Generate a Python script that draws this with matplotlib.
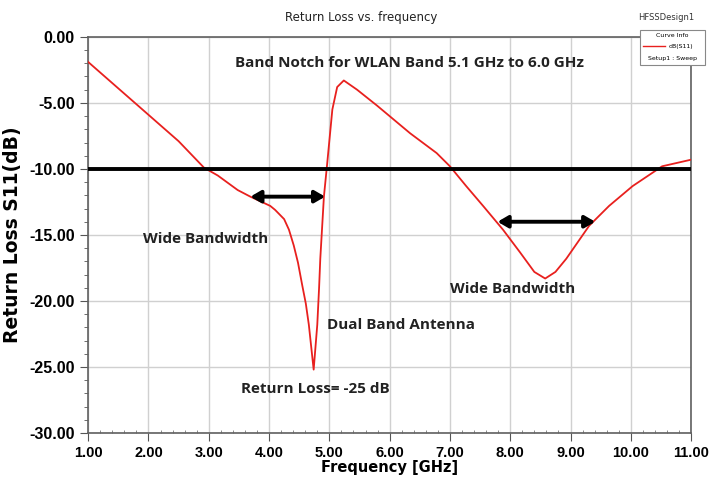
import matplotlib
matplotlib.use("Agg")
import matplotlib.pyplot as plt
from matplotlib.patches import Rectangle
from matplotlib.lines import Line2D
from matplotlib.ticker import MultipleLocator

freq = [1.0, 1.5, 2.0, 2.5, 2.92, 3.15, 3.48, 3.69, 4.02, 4.1, 4.25, 4.33, 4.41,
        4.48, 4.55, 4.61, 4.66, 4.70, 4.74, 4.77, 4.80, 4.83, 4.85, 4.91, 4.96,
        5.05, 5.13, 5.24, 5.46, 5.79, 6.34, 6.78, 7.0, 7.27, 7.55, 7.88, 8.16,
        8.40, 8.58, 8.75, 8.93, 9.31, 9.64, 10.03, 10.52, 11.0]
s11 = [-1.9, -3.9, -5.9, -7.9, -9.9, -10.5, -11.6, -12.1, -12.8, -13.1, -13.8,
       -14.6, -15.8, -17.1, -18.8, -20.2, -21.8, -23.5, -25.2, -23.5, -21.8,
       -19.0, -16.8, -12.1, -9.8, -5.5, -3.8, -3.3, -4.0, -5.2, -7.3, -8.8,
       -9.8, -11.3, -12.8, -14.6, -16.3, -17.8, -18.3, -17.8, -16.8, -14.3,
       -12.8, -11.3, -9.8, -9.3]

threshold = -10.0
arrow1_x = [3.69, 4.93]
arrow1_y = -12.1
arrow2_x = [7.79, 9.41]
arrow2_y = -14.0

xticks = [1, 2, 3, 4, 5, 6, 7, 8, 9, 10, 11]
yticks = [0, -5, -10, -15, -20, -25, -30]

fig = plt.figure(figsize=(7.11, 4.79), dpi=100)
ax = fig.add_axes([0.124, 0.096, 0.848, 0.827])

ax.plot(freq, s11, color="#e8201e", lw=1.3, zorder=3)
ax.axhline(threshold, color="black", lw=2.8, zorder=4)

for xs, yv in [(arrow1_x, arrow1_y), (arrow2_x, arrow2_y)]:
    ax.annotate("", xy=(xs[0], yv), xytext=(xs[1], yv),
                arrowprops=dict(arrowstyle="<|-|>,head_length=0.6,head_width=0.35",
                                color="black", lw=2.8, shrinkA=0, shrinkB=0),
                zorder=5)

ax.set_xlim(1, 11)
ax.set_ylim(-30, 0)
ax.set_xticks(xticks)
ax.set_yticks(yticks)
ax.set_xticklabels([f"{v:.2f}" for v in xticks])
ax.set_yticklabels([f"{v:.2f}" for v in yticks])
ax.yaxis.set_minor_locator(MultipleLocator(1))
ax.xaxis.set_minor_locator(MultipleLocator(0.2))
ax.tick_params(axis="both", which="major", length=6, color="#555555")
ax.tick_params(axis="y", which="minor", length=3, color="#555555")
ax.tick_params(axis="x", which="minor", length=2, direction="in", color="#777777")
for lab in ax.get_xticklabels() + ax.get_yticklabels():
    lab.set_fontweight("bold")
    lab.set_family("Liberation Sans")
    lab.set_fontsize(11.5)
for lab in ax.get_xticklabels():
    lab.set_fontsize(10.5)
ax.grid(True, which="major", color="#d0d0d0", lw=1.0)
ax.set_axisbelow(True)
for sp in ax.spines.values():
    sp.set_color("#606060")
    sp.set_linewidth(1.2)

ax.set_xlabel("Frequency [GHz]", fontsize=10.5, fontweight="bold", labelpad=0)
ax.set_ylabel("Return Loss S11(dB)", fontsize=13.5, fontweight="bold")
ax.yaxis.set_label_coords(-0.109, 0.5)

fig.text(361 / 711, 1 - 17 / 479, "Return Loss vs. frequency", fontsize=8.5,
         ha="center", va="center", color="#222222")

tfont = dict(fontsize=11, fontweight="bold", family="Open Sans", color="#222222")
ax.text(3.44, -2.0, "Band Notch for WLAN Band 5.1 GHz to 6.0 GHz", ha="left", va="center", **tfont)
ax.text(1.91, -15.3, "Wide Bandwidth", ha="left", va="center", **tfont)
ax.text(7.0, -19.1, "Wide Bandwidth", ha="left", va="center", **tfont)
ax.text(4.96, -21.8, "Dual Band Antenna", ha="left", va="center", **tfont)
ax.text(3.53, -26.65, "Return Loss= -25 dB", ha="left", va="center", **tfont)

fig.text(666 / 711, 1 - 17 / 479, "HFSSDesign1", fontsize=6, color="#333333",
         ha="center", va="center")
fig.patches.append(Rectangle((0.9, 0.865), 0.092, 0.072, transform=fig.transFigure,
                             facecolor="white", edgecolor="#888888", lw=0.8, zorder=10))
fig.text(0.946, 0.925, "Curve Info", fontsize=4.5, ha="center", va="center", zorder=11)
fig.lines.append(Line2D([0.905, 0.935], [0.903, 0.903], transform=fig.transFigure,
                        color="#e8201e", lw=1.0, zorder=11))
fig.text(0.94, 0.903, "dB(S11)", fontsize=4.5, ha="left", va="center", zorder=11)
fig.text(0.946, 0.878, "Setup1 : Sweep", fontsize=4.5, ha="center", va="center", zorder=11)

fig.savefig("out.png", dpi=100)
